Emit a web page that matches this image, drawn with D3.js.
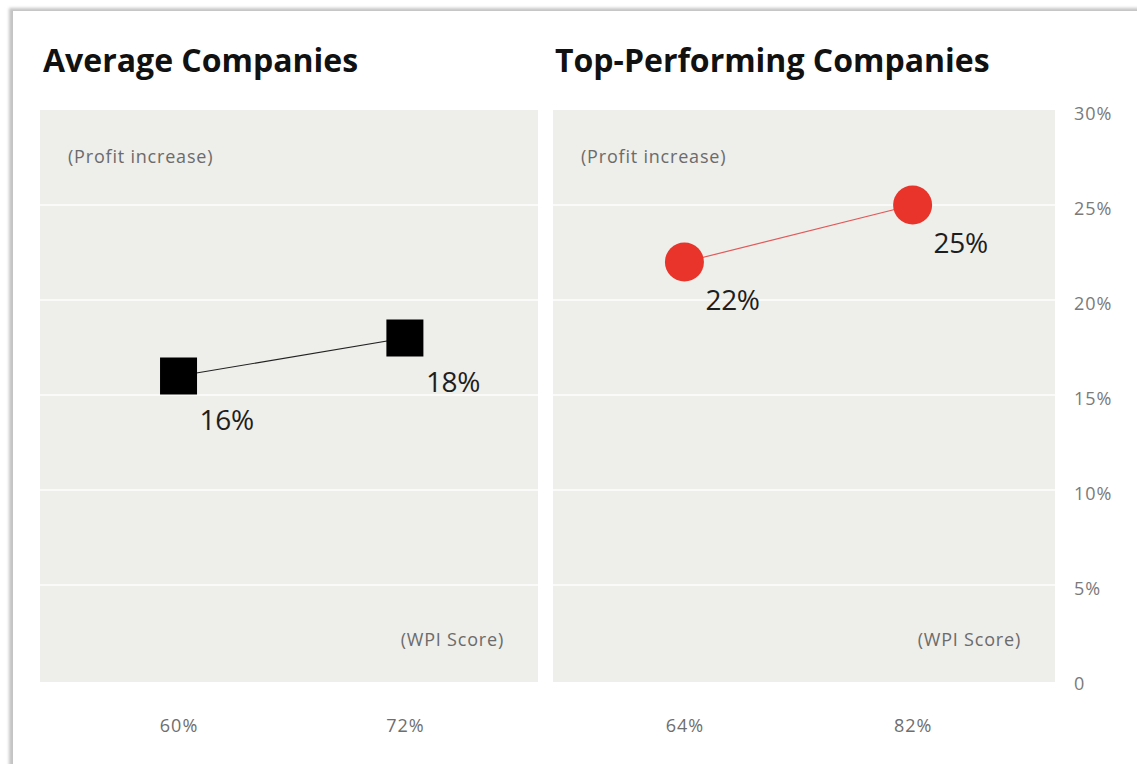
<!DOCTYPE html>
<html>
<head>
<meta charset="utf-8">
<script src="https://cdn.jsdelivr.net/npm/d3@7"></script>
<style>
  html, body { margin: 0; padding: 0; background: #ffffff; }
  svg { display: block; }
</style>
</head>
<body>
<svg id="chart" width="1137" height="764"></svg>
<script>
// Panel titles
const panelTitles = ["Average Companies", "Top-Performing Companies"];
// WPI score categories per panel
const avgWpi = ["60%", "72%"];
const topWpi = ["64%", "82%"];
// Profit increase (%) per panel
const avgProfit = [16, 18];
const topProfit = [22, 25];
// Shared y-axis ticks
const yTicks = [0, 5, 10, 15, 20, 25, 30];
const yTickLabels = ["0", "5%", "10%", "15%", "20%", "25%", "30%"];

const svg = d3.select("#chart");
const W = 1137, H = 764;

// Card with soft left/top shadow
const defs = svg.append("defs");
defs.append("filter").attr("id", "soft")
  .attr("x", "-5%").attr("y", "-5%").attr("width", "110%").attr("height", "110%")
  .append("feGaussianBlur").attr("stdDeviation", 1.6);
svg.append("rect").attr("x", 9).attr("y", 8).attr("width", W + 40).attr("height", H + 40)
  .attr("fill", "#c4c4c4").attr("filter", "url(#soft)");
svg.append("rect").attr("x", 13).attr("y", 11).attr("width", W + 40).attr("height", H + 40)
  .attr("fill", "#ffffff");

// Shared vertical scale
const panelTop = 110, panelBottom = 682;
const y = d3.scaleLinear().domain([0, 30]).range([680, 110]);

const panels = [
  { title: panelTitles[0], x0: 40, x1: 538, cats: avgWpi, vals: avgProfit, kind: "square",
    color: "#000000", lineColor: "#222222", titleX: 43, align: 0.51, labelDy: 54 },
  { title: panelTitles[1], x0: 553, x1: 1055, cats: topWpi, vals: topProfit, kind: "circle",
    color: "#e8342a", lineColor: "#e05a5a", titleX: 555, align: 0.48, labelDy: 48 }
];

const lightText = sel => sel
  .attr("font-family", "'Open Sans', sans-serif")
  .attr("font-size", 18)
  .attr("letter-spacing", 0.8)
  .attr("fill", "#6b6b6b");

panels.forEach(p => {
  const g = svg.append("g");

  // Title
  g.append("text")
    .attr("x", p.titleX).attr("y", 72)
    .attr("font-family", "'Open Sans', sans-serif")
    .attr("font-weight", 700)
    .attr("font-size", 32)
    .attr("fill", "#111111")
    .text(p.title);

  // Plot background
  g.append("rect")
    .attr("x", p.x0).attr("y", panelTop)
    .attr("width", p.x1 - p.x0).attr("height", panelBottom - panelTop)
    .attr("fill", "#eeeeea");

  // White gridlines
  g.selectAll("line.grid")
    .data(yTicks.filter(t => t > 0 && t < 30))
    .join("line")
    .attr("class", "grid")
    .attr("x1", p.x0).attr("x2", p.x1)
    .attr("y1", d => y(d)).attr("y2", d => y(d))
    .attr("stroke", "#fafaf8").attr("stroke-width", 2);

  // Axis captions inside the panel
  g.append("text")
    .attr("x", p.x0 + 28).attr("y", 163)
    .call(lightText)
    .text("(Profit increase)");
  g.append("text")
    .attr("x", p.x1 - 34).attr("y", 646)
    .attr("text-anchor", "end")
    .call(lightText)
    .text("(WPI Score)");

  // Categorical x scale for this panel
  const x = d3.scalePoint().domain(p.cats).range([p.x0, p.x1]).padding(0.6).align(p.align);

  // Bottom axis (labels only)
  const xAxis = g.append("g")
    .attr("transform", `translate(0,${panelBottom})`)
    .call(d3.axisBottom(x).tickSize(0).tickPadding(37));
  xAxis.select(".domain").remove();
  xAxis.selectAll("text")
    .attr("font-family", "'Open Sans', sans-serif")
    .attr("font-size", 18)
    .attr("letter-spacing", 1)
    .attr("fill", "#6e6e6e");

  const pts = p.cats.map((c, i) => ({ c, v: p.vals[i] }));

  // Connecting line
  g.append("path")
    .datum(pts)
    .attr("fill", "none")
    .attr("stroke", p.lineColor)
    .attr("stroke-width", 1.2)
    .attr("d", d3.line().x(d => x(d.c)).y(d => y(d.v)));

  // Markers
  if (p.kind === "square") {
    const s = 37;
    g.selectAll("rect.mark").data(pts).join("rect")
      .attr("class", "mark")
      .attr("x", d => x(d.c) - s / 2).attr("y", d => y(d.v) - s / 2)
      .attr("width", s).attr("height", s)
      .attr("fill", p.color);
  } else {
    g.selectAll("circle.mark").data(pts).join("circle")
      .attr("class", "mark")
      .attr("cx", d => x(d.c)).attr("cy", d => y(d.v))
      .attr("r", 19.5)
      .attr("fill", p.color);
  }

  // Value labels
  g.selectAll("text.val").data(pts).join("text")
    .attr("class", "val")
    .attr("x", d => x(d.c) + 21)
    .attr("y", d => y(d.v) + p.labelDy)
    .attr("font-family", "'Open Sans', sans-serif")
    .attr("font-size", 28)
    .attr("fill", "#1e1e1e")
    .attr("letter-spacing", -0.3)
    .text(d => d.v + "%");
});

// Shared y axis on the right
const yAxis = svg.append("g")
  .attr("transform", "translate(1068,0)")
  .call(d3.axisRight(y).tickValues(yTicks)
    .tickFormat((d, i) => yTickLabels[i]).tickSize(0).tickPadding(6));
yAxis.select(".domain").remove();
yAxis.selectAll("text")
  .attr("font-family", "'Open Sans', sans-serif")
  .attr("font-size", 18)
  .attr("letter-spacing", 1)
  .attr("fill", "#7a7a7a")
  .attr("dy", "0.55em");
</script>
</body>
</html>
